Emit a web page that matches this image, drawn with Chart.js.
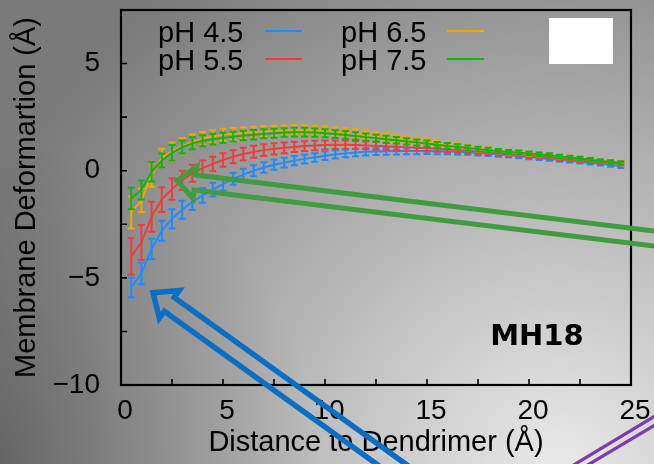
<!DOCTYPE html>
<html>
<head>
<meta charset="utf-8">
<script src="https://cdn.jsdelivr.net/npm/chart.js@4.4.1/dist/chart.umd.min.js"></script>
<style>
  html, body { margin: 0; padding: 0; }
  #wrap {
    position: relative; width: 654px; height: 464px; overflow: hidden;
    background:
      radial-gradient(circle 320px at 0px 464px, rgba(0,0,0,0.24), rgba(0,0,0,0) 100%),
      radial-gradient(circle 620px at 560px 470px, #eaeaea 0%, #7a7a7a 100%);
  }
  canvas { display: block; }
</style>
</head>
<body>
<div id="wrap"><canvas id="c" width="654" height="464"></canvas></div>
<script>
// Distance from the dendrimer (Å)
const distance = [0.5,1,1.5,2,2.5,3,3.5,4,4.5,5,
  5.5,6,6.5,7,7.5,8,8.5,9,9.5,10,
  10.5,11,11.5,12,12.5,13,13.5,14,14.5,15,
  15.5,16,16.5,17,17.5,18,18.5,19,19.5,20,
  20.5,21,21.5,22,22.5,23,23.5,24,24.5];

// Mean membrane deformation (Å) for each pH
const ph45 = [-5.45,-4.80,-3.65,-2.80,-2.25,-1.82,-1.45,-1.15,-0.88,-0.62,
  -0.38,-0.18,0.00,0.15,0.28,0.38,0.47,0.55,0.62,0.70,
  0.76,0.81,0.85,0.88,0.90,0.91,0.92,0.92,0.92,0.92,
  0.91,0.90,0.88,0.86,0.83,0.80,0.76,0.72,0.68,0.64,
  0.59,0.55,0.51,0.46,0.42,0.37,0.32,0.27,0.21];
const ph55 = [-4.00,-3.35,-2.15,-1.35,-0.85,-0.45,-0.12,0.12,0.32,0.50,
  0.65,0.78,0.88,0.96,1.02,1.07,1.11,1.15,1.18,1.20,
  1.21,1.21,1.20,1.18,1.16,1.14,1.12,1.10,1.07,1.05,
  1.02,0.99,0.96,0.93,0.89,0.86,0.82,0.78,0.74,0.70,
  0.66,0.62,0.57,0.52,0.48,0.44,0.40,0.36,0.32];
const ph65 = [-1.95,-1.38,-0.20,0.60,0.90,1.15,1.35,1.50,1.60,1.68,
  1.72,1.76,1.80,1.83,1.86,1.88,1.90,1.90,1.89,1.87,
  1.83,1.79,1.74,1.69,1.63,1.57,1.51,1.45,1.39,1.33,
  1.27,1.20,1.14,1.08,1.02,0.97,0.92,0.87,0.83,0.80,
  0.76,0.72,0.67,0.62,0.57,0.52,0.47,0.42,0.37];
const ph75 = [-1.30,-0.90,-0.05,0.48,0.84,1.10,1.28,1.40,1.47,1.53,
  1.59,1.64,1.68,1.72,1.75,1.78,1.80,1.80,1.78,1.75,
  1.71,1.67,1.62,1.57,1.52,1.47,1.42,1.37,1.32,1.27,
  1.21,1.16,1.11,1.06,1.01,0.96,0.91,0.87,0.84,0.81,
  0.76,0.72,0.67,0.62,0.57,0.51,0.46,0.41,0.36];

// Standard errors (Å)
const err45 = [0.45,0.50,0.47,0.47,0.45,0.42,0.38,0.34,0.32,0.30,
  0.28,0.27,0.26,0.25,0.24,0.23,0.22,0.21,0.20,0.20,
  0.19,0.18,0.18,0.17,0.17,0.16,0.16,0.15,0.15,0.14,
  0.14,0.13,0.13,0.12,0.12,0.11,0.11,0.10,0.10,0.10,
  0.09,0.09,0.09,0.08,0.08,0.08,0.08,0.08,0.08];
const err55 = [0.86,0.82,0.70,0.58,0.50,0.45,0.40,0.36,0.33,0.31,
  0.30,0.29,0.28,0.27,0.26,0.25,0.24,0.23,0.22,0.21,
  0.20,0.20,0.19,0.18,0.18,0.17,0.16,0.16,0.15,0.15,
  0.14,0.14,0.13,0.12,0.12,0.11,0.11,0.10,0.10,0.10,
  0.09,0.09,0.09,0.08,0.08,0.08,0.08,0.08,0.08];
const err65 = [0.75,0.55,0.55,0.42,0.42,0.38,0.34,0.31,0.29,0.28,
  0.27,0.26,0.25,0.24,0.24,0.23,0.22,0.22,0.21,0.21,
  0.20,0.20,0.19,0.19,0.18,0.18,0.17,0.16,0.16,0.15,
  0.15,0.14,0.14,0.13,0.12,0.12,0.11,0.11,0.10,0.10,
  0.10,0.09,0.09,0.09,0.08,0.08,0.08,0.08,0.08];
const err75 = [0.50,0.44,0.45,0.32,0.36,0.30,0.28,0.26,0.25,0.24,
  0.23,0.22,0.22,0.21,0.21,0.20,0.20,0.20,0.19,0.19,
  0.18,0.18,0.17,0.17,0.16,0.16,0.15,0.15,0.14,0.14,
  0.13,0.13,0.12,0.12,0.11,0.11,0.10,0.10,0.10,0.09,
  0.09,0.09,0.08,0.08,0.08,0.08,0.08,0.08,0.08];

const seriesLabels = ['pH 4.5', 'pH 5.5', 'pH 6.5', 'pH 7.5'];
const seriesValues = [ph45, ph55, ph65, ph75];
const seriesErrors = [err45, err55, err65, err75];
const seriesColors = ['#1e8cff', '#f03c3c', '#f5a500', '#14b014'];

const FONT = 'Liberation Sans, Arial, sans-serif';

const datasets = seriesLabels.map((label, i) => ({
  label,
  data: distance.map((d, j) => ({ x: d, y: seriesValues[i][j] })),
  errors: seriesErrors[i],
  borderColor: seriesColors[i],
  backgroundColor: seriesColors[i],
  borderWidth: 1.9,
  pointRadius: 0,
  tension: 0,
  fill: false,
  order: seriesLabels.length - 1 - i
}));

// vertical error bars with caps, drawn with each dataset
const errorBars = {
  id: 'errorBars',
  afterDatasetDraw(chart, args) {
    const ds = chart.data.datasets[args.index];
    const xs = chart.scales.x, ys = chart.scales.y, ctx = chart.ctx;
    ctx.save();
    ctx.strokeStyle = ds.borderColor;
    ctx.lineWidth = 2;
    ds.data.forEach((p, j) => {
      const e = ds.errors[j];
      const px = xs.getPixelForValue(p.x);
      const y1 = ys.getPixelForValue(p.y - e);
      const y2 = ys.getPixelForValue(p.y + e);
      ctx.beginPath();
      ctx.moveTo(px, y1); ctx.lineTo(px, y2);
      ctx.moveTo(px - 3.5, y1); ctx.lineTo(px + 3.5, y1);
      ctx.moveTo(px - 3.5, y2); ctx.lineTo(px + 3.5, y2);
      ctx.stroke();
    });
    ctx.restore();
  }
};

// frame with inward tick marks on the left and bottom axes
const frame = {
  id: 'frame',
  afterDatasetsDraw(chart) {
    const { ctx, chartArea: a, scales: { x, y } } = chart;
    ctx.save();
    ctx.strokeStyle = '#000';
    ctx.lineWidth = 1.6;
    ctx.beginPath();
    x.ticks.forEach(t => {
      const px = x.getPixelForValue(t.value);
      ctx.moveTo(px, a.bottom); ctx.lineTo(px, a.bottom - 6);
    });
    y.ticks.forEach(t => {
      const py = y.getPixelForValue(t.value);
      ctx.moveTo(a.left, py); ctx.lineTo(a.left + 6, py);
    });
    ctx.stroke();
    ctx.lineWidth = 2.2;
    ctx.strokeRect(a.left, a.top, a.right - a.left, a.bottom - a.top);
    ctx.restore();
  }
};

function hollowArrow(ctx, tip, dir, len, halfW, headLen, headHalf, color, lw) {
  const m = Math.hypot(dir[0], dir[1]);
  const ux = dir[0] / m, uy = dir[1] / m, nx = -uy, ny = ux;
  const P = (s, t) => [tip[0] + ux * s + nx * t, tip[1] + uy * s + ny * t];
  const pts = [P(len, -halfW), P(headLen, -halfW), P(headLen, -headHalf), P(0, 0),
               P(headLen, headHalf), P(headLen, halfW), P(len, halfW)];
  ctx.save();
  ctx.strokeStyle = color;
  ctx.lineWidth = lw;
  ctx.lineJoin = 'miter';
  ctx.beginPath();
  ctx.moveTo(pts[0][0], pts[0][1]);
  for (let k = 1; k < pts.length; k++) ctx.lineTo(pts[k][0], pts[k][1]);
  ctx.stroke();
  ctx.restore();
}

// legend, label box, panel tag and pointer arrows
const overlay = {
  id: 'overlay',
  afterDraw(chart) {
    const { ctx, chartArea: a, scales: { x, y } } = chart;
    ctx.save();

    // legend: two columns, text followed by line sample
    ctx.font = '29px ' + FONT;
    ctx.fillStyle = '#000';
    ctx.textBaseline = 'middle';
    ctx.textAlign = 'left';
    const cols = [[158, 265], [341, 447]];
    const rows = [33, 61];
    chart.data.datasets.forEach((ds, i) => {
      const c = cols[Math.floor(i / 2)], r = rows[i % 2];
      ctx.fillText(ds.label, c[0], r + 1);
      ctx.strokeStyle = ds.borderColor;
      ctx.lineWidth = 2;
      ctx.beginPath();
      ctx.moveTo(c[1], r - 2); ctx.lineTo(c[1] + 37, r - 2);
      ctx.stroke();
    });

    // blank label box in the upper right corner
    ctx.fillStyle = '#ffffff';
    ctx.fillRect(a.right - 82, a.top + 8, 64, 46);

    // panel tag
    ctx.fillStyle = '#000';
    ctx.font = 'bold 29px "DejaVu Sans", sans-serif';
    ctx.textBaseline = 'alphabetic';
    ctx.fillText('MH18', x.getPixelForValue(18.1), y.getPixelForValue(-8.12));

    // pointer arrows
    hollowArrow(ctx, [x.getPixelForValue(2.75), y.getPixelForValue(-0.45)], [1, 0.122],
                620, 7.5, 18, 16, '#3f9c3f', 5);
    hollowArrow(ctx, [x.getPixelForValue(1.57), y.getPixelForValue(-5.69)], [1, 0.72],
                420, 8.5, 20, 17, '#0a6fc4', 5.5);

    // purple guide lines in the lower right corner
    ctx.strokeStyle = '#7a3ea8';
    ctx.lineWidth = 3.3;
    ctx.beginPath();
    ctx.moveTo(572, 466); ctx.lineTo(660, 413);
    ctx.moveTo(586, 466); ctx.lineTo(660, 422);
    ctx.stroke();

    ctx.restore();
  }
};

new Chart(document.getElementById('c'), {
  type: 'line',
  data: { datasets },
  plugins: [errorBars, frame, overlay],
  options: {
    responsive: false,
    animation: false,
    devicePixelRatio: 1,
    layout: { padding: { left: 0, right: 23, top: 10, bottom: 0 } },
    plugins: { legend: { display: false }, tooltip: { enabled: false } },
    scales: {
      x: {
        type: 'linear', min: 0, max: 25,
        grid: { display: false, drawTicks: false },
        border: { display: false },
        ticks: {
          stepSize: 2.5, autoSkip: false, maxRotation: 0, padding: 9, labelOffset: 4,
          color: '#000', font: { family: FONT, size: 28 },
          callback: v => (v % 5 === 0 ? String(v) : '')
        },
        title: {
          display: true, text: 'Distance to Dendrimer (Å)', color: '#000',
          font: { family: FONT, size: 29 }, padding: { top: 0, bottom: 4 }
        },
        afterFit(s) { s.height = 79; s.paddingLeft = 0; s.paddingRight = 0; }
      },
      y: {
        min: -10, max: 7.5,
        grid: { display: false, drawTicks: false },
        border: { display: false },
        ticks: {
          stepSize: 2.5, padding: 21,
          color: '#000', font: { family: FONT, size: 28 },
          callback: v => (v % 5 === 0 ? (v < 0 ? '\u2212' + Math.abs(v) : String(v)) : '')
        },
        title: {
          display: true, text: 'Membrane Deformartion (Å)', color: '#000',
          font: { family: FONT, size: 29 }, padding: { top: 10, bottom: 0 }
        },
        afterFit(s) { s.width = 121; s.paddingTop = 0; s.paddingBottom = 0; }
      }
    }
  }
});
</script>
</body>
</html>
